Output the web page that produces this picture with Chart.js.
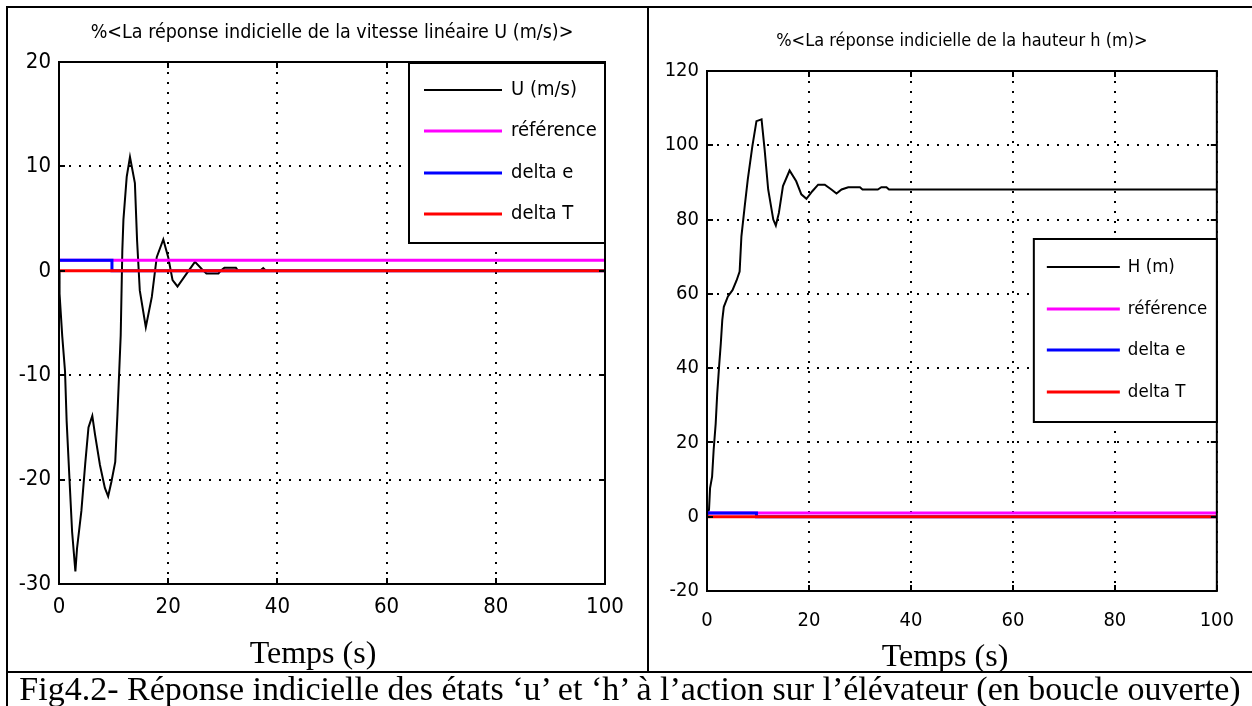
<!DOCTYPE html>
<html lang="fr">
<head>
<meta charset="utf-8">
<title>Fig4.2 - Réponse indicielle</title>
<script src="https://cdn.jsdelivr.net/npm/chart.js@4.4.0/dist/chart.umd.min.js"></script>
<style>
    html, body { margin: 0; padding: 0; background: #fff; }
    #page { position: relative; width: 1252px; height: 706px; overflow: hidden; background: #fff; }
    canvas { position: absolute; top: 0; }
    #chartU { left: 0; }
    #chartH { left: 650px; }
    .rule { position: absolute; background: #000; z-index: 2; }
    .temps { position: absolute; font-family: 'Liberation Serif', 'Times New Roman', serif; font-size: 32px; line-height: 32px; color: #000; white-space: nowrap; transform: translateX(-50%); }
    #caption { position: absolute; left: 8px; width: 1244px; top: 672px; text-align: center; font-family: 'Liberation Serif', 'Times New Roman', serif; font-size: 34px; line-height: 34px; color: #000; white-space: nowrap; }
</style>
</head>
<body>
<div id="page">
    <canvas id="chartU" width="646" height="670"></canvas>
    <canvas id="chartH" width="602" height="670"></canvas>

    <div class="temps" style="left:313px; top:636px;">Temps (s)</div>
    <div class="temps" style="left:945px; top:639px;">Temps (s)</div>
    <div id="caption">Fig4.2- Réponse indicielle des états ‘u’ et ‘h’ à l’action sur l’élévateur (en boucle ouverte)</div>

    <!-- cadre du tableau -->
    <div class="rule" style="left:6px; top:6px; width:1246px; height:2px;"></div>
    <div class="rule" style="left:6px; top:6px; width:2px; height:700px;"></div>
    <div class="rule" style="left:647px; top:6px; width:2px; height:666px;"></div>
    <div class="rule" style="left:6px; top:671px; width:1246px; height:2px;"></div>
</div>

<script>
// --- DONNEES ---
const titreU = '%<La réponse indicielle de la vitesse linéaire U (m/s)>';
const titreH = '%<La réponse indicielle de la hauteur h (m)>';

// vitesse linéaire U (m/s)
const tempsU = [0, 0.1, 0.6, 1.1, 1.4, 2.0, 2.4, 3.0, 3.3, 4.1, 4.8, 5.4, 6.1, 6.6, 7.5, 8.4, 9.0, 9.6, 10.3, 10.7,
    11.0, 11.3, 11.6, 11.8, 12.4, 13.0, 13.9, 14.3, 14.8, 15.9, 17.0, 17.9, 19.1, 20.0, 20.8, 21.7, 23.4, 24.9,
    26.1, 27.0, 29.2, 29.6, 30.3, 32.4, 32.8, 36.8, 37.4, 37.9, 100];
const vitesseU = [0, -2.2, -6.3, -9.6, -14.4, -20.8, -25, -28.8, -26.6, -23, -18.5, -15, -13.9, -15.7, -18.6, -20.8, -21.6, -20.2, -18.3, -13.8,
    -10, -6.2, 2.0, 4.9, 9.0, 10.9, 8.4, 2.9, -1.9, -5.4, -2.5, 1.3, 3.0, 1.3, -0.9, -1.5, -0.25, 0.85,
    0.2, -0.25, -0.25, 0, 0.3, 0.3, 0, 0, 0.25, 0, 0];

// hauteur h (m)
const tempsH = [0, 0.4, 0.6, 1.0, 1.3, 1.7, 2.0, 2.4, 2.7, 3.0, 3.3, 4.1, 5.0, 5.8, 6.4, 6.75, 7.4, 8.0, 8.9, 9.7,
    10.7, 11.3, 12.0, 13.0, 13.5, 14.1, 14.9, 16.2, 17.5, 18.5, 19.5, 20.7, 21.8, 23.1, 24.4, 25.4, 26.4, 27.7,
    30.0, 30.5, 33.5, 34.2, 35.2, 35.7, 100];
const hauteurH = [0, 2, 7.7, 10.8, 17.9, 25, 33, 41, 46.5, 53, 56.5, 59.3, 61, 63.6, 66, 75.5, 83.6, 90.8, 99.8, 106.5,
    107, 98.9, 88.1, 80, 78.4, 81.8, 89, 93.2, 90.3, 86.8, 85.6, 87.7, 89.4, 89.4, 88.1, 87.0, 88.1, 88.7,
    88.7, 88.1, 88.1, 88.7, 88.7, 88.1, 88.1];

// consignes (identiques sur les deux figures)
const tempsRef = [0, 100];
const reference = [1, 1];
const tempsDeltaE = [0, 9.7, 9.7, 100];
const deltaE = [1, 1, 0, 0];
const tempsDeltaT = [0, 100];
const deltaT = [0, 0];

// police étroite type Matlab : DejaVu Sans en largeur condensée
const FAMILLE = "'DejaVu Sans', 'Liberation Sans', sans-serif";
const ETROIT = 'condensed';

function pts(t, v) {
    return t.map((x, i) => ({ x: x, y: v[i] }));
}

// Cadre, petites graduations intérieures et légende façon Matlab
const cadreMatlab = {
    id: 'cadreMatlab',
    afterDatasetsDraw(chart, args, opts) {
        const { ctx, chartArea: a, scales } = chart;
        ctx.save();
        ctx.strokeStyle = '#000';
        ctx.lineWidth = 2;

        ctx.beginPath();
        scales.x.ticks.forEach(t => {
            const px = Math.round(scales.x.getPixelForValue(t.value));
            ctx.moveTo(px, a.bottom); ctx.lineTo(px, a.bottom - 6);
            ctx.moveTo(px, a.top); ctx.lineTo(px, a.top + 6);
        });
        scales.y.ticks.forEach(t => {
            const py = Math.round(scales.y.getPixelForValue(t.value));
            ctx.moveTo(a.left, py); ctx.lineTo(a.left + 6, py);
            ctx.moveTo(a.right, py); ctx.lineTo(a.right - 6, py);
        });
        ctx.stroke();
        ctx.strokeRect(a.left, a.top, a.right - a.left, a.bottom - a.top);

        // légende
        const L = opts.legende;
        const x0 = a.right - L.width;
        const y0 = a.top + L.offsetTop;
        ctx.fillStyle = '#fff';
        ctx.fillRect(x0, y0, L.width, L.height);
        ctx.strokeRect(x0, y0, L.width, L.height);

        ctx.font = ETROIT + ' ' + L.fontSize + 'px ' + FAMILLE;
        ctx.textBaseline = 'middle';
        ctx.textAlign = 'left';
        chart.data.datasets.forEach((ds, i) => {
            const ry = Math.round(y0 + L.firstRow + i * L.rowGap);
            ctx.strokeStyle = ds.borderColor;
            ctx.lineWidth = ds.borderWidth;
            ctx.beginPath();
            ctx.moveTo(x0 + L.lineStart, ry);
            ctx.lineTo(x0 + L.lineEnd, ry);
            ctx.stroke();
            ctx.fillStyle = '#000';
            ctx.fillText(ds.label, x0 + L.textX, ry);
        });
        ctx.restore();
    }
};

function createChart(id, cfg) {
    const ctx = document.getElementById(id).getContext('2d');
    const tickFont = { family: FAMILLE, weight: ETROIT, size: cfg.tickSize };
    return new Chart(ctx, {
        type: 'line',
        data: {
            datasets: [
                { label: cfg.nom, data: pts(cfg.temps, cfg.valeurs), borderColor: '#000000', borderWidth: 2, order: 4 },
                { label: 'référence', data: pts(tempsRef, reference), borderColor: '#ff00ff', borderWidth: 3, order: 3 },
                { label: 'delta e', data: pts(tempsDeltaE, deltaE), borderColor: '#0000ff', borderWidth: 3, order: 2 },
                { label: 'delta T', data: pts(tempsDeltaT, deltaT), borderColor: '#ff0000', borderWidth: 3, order: 1 }
            ]
        },
        options: {
            responsive: false,
            animation: false,
            events: [],
            elements: { point: { radius: 0 }, line: { tension: 0, fill: false } },
            layout: { padding: { left: 0, top: 0, bottom: 0, right: cfg.padRight } },
            plugins: {
                legend: { display: false },
                tooltip: { enabled: false },
                title: {
                    display: true,
                    fullSize: false, // centré au-dessus du cadre, comme sous Matlab
                    text: cfg.titre,
                    color: '#000',
                    font: { family: FAMILLE, size: cfg.titreSize, weight: ETROIT, lineHeight: 1.2 },
                    padding: cfg.titrePad
                },
                cadreMatlab: { legende: cfg.legende }
            },
            scales: {
                x: {
                    type: 'linear',
                    min: 0, max: 100,
                    afterFit: s => { s.height = cfg.hauteurX; },
                    grid: { color: '#000', lineWidth: 2, drawTicks: false },
                    border: { display: false, dash: [2, 8] },
                    ticks: { stepSize: 20, color: '#000', padding: cfg.padX, font: tickFont }
                },
                y: {
                    min: cfg.ymin, max: cfg.ymax,
                    afterFit: s => { s.width = cfg.largeurY; },
                    grid: { color: '#000', lineWidth: 2, drawTicks: false },
                    border: { display: false, dash: [2, 8] },
                    ticks: { stepSize: cfg.pasY, color: '#000', padding: 8, font: tickFont }
                }
            }
        },
        plugins: [cadreMatlab]
    });
}

createChart('chartU', {
    nom: 'U (m/s)', titre: titreU, temps: tempsU, valeurs: vitesseU,
    ymin: -30, ymax: 20, pasY: 10,
    titreSize: 19.5, titrePad: { top: 21, bottom: 17.6 },
    padRight: 41, largeurY: 59, hauteurX: 86, padX: 10, tickSize: 22,
    legende: { width: 196, height: 180, offsetTop: 1, firstRow: 27, rowGap: 41.3, lineStart: 15, lineEnd: 93, textX: 102, fontSize: 20 }
});

createChart('chartH', {
    nom: 'H (m)', titre: titreH, temps: tempsH, valeurs: hauteurH,
    ymin: -20, ymax: 120, pasY: 20,
    titreSize: 18, titrePad: { top: 31, bottom: 18.4 },
    padRight: 35, largeurY: 57, hauteurX: 79, padX: 18, tickSize: 20,
    legende: { width: 183, height: 183, offsetTop: 168, firstRow: 28, rowGap: 41.7, lineStart: 13, lineEnd: 86, textX: 94, fontSize: 18.5 }
});
</script>
</body>
</html>
